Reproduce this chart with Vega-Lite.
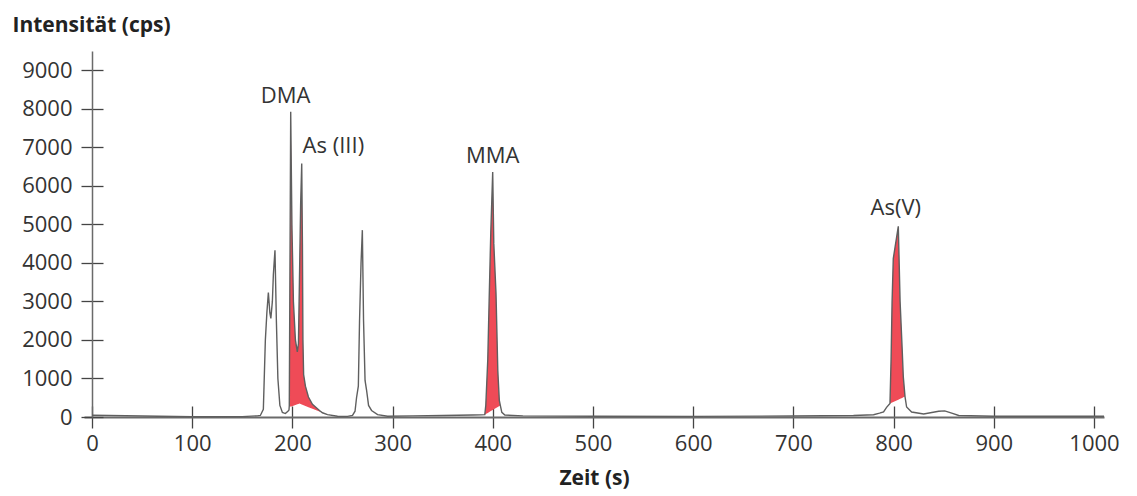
{
  "$schema": "https://vega.github.io/schema/vega-lite/v6.json",
  "width": 1020,
  "height": 366,
  "autosize": {"type": "none"},
  "padding": {"left": 84, "top": 51, "right": 33, "bottom": 79},
  "background": "white",
  "config": {"view": {"stroke": null}, "font": "Open Sans"},
  "datasets": {
    "signal": [
      {"t": 0, "i": 45}, {"t": 50, "i": 25}, {"t": 100, "i": 5}, {"t": 150, "i": 10}, {"t": 165, "i": 30}, {"t": 168, "i": 40},
      {"t": 171, "i": 200}, {"t": 173, "i": 2000}, {"t": 174.5, "i": 2700}, {"t": 176, "i": 3230}, {"t": 177.5, "i": 2700},
      {"t": 178.5, "i": 2560}, {"t": 180, "i": 3000}, {"t": 181, "i": 3700}, {"t": 182.6, "i": 4330}, {"t": 184, "i": 2500},
      {"t": 185.5, "i": 1000}, {"t": 187.5, "i": 300}, {"t": 190, "i": 120}, {"t": 193, "i": 90}, {"t": 195.5, "i": 150},
      {"t": 196.6, "i": 180}, {"t": 196.9, "i": 300}, {"t": 198.3, "i": 7922}, {"t": 199.5, "i": 5000}, {"t": 201, "i": 3000},
      {"t": 203, "i": 2000}, {"t": 204.9, "i": 1690}, {"t": 206, "i": 1900}, {"t": 207, "i": 3500}, {"t": 208.2, "i": 5500},
      {"t": 209.3, "i": 6580}, {"t": 210, "i": 4500}, {"t": 210.5, "i": 2000}, {"t": 211.2, "i": 1100}, {"t": 213, "i": 800},
      {"t": 216, "i": 520}, {"t": 220, "i": 330}, {"t": 227, "i": 170}, {"t": 230, "i": 110}, {"t": 235, "i": 60},
      {"t": 245, "i": 20}, {"t": 255, "i": 15}, {"t": 260, "i": 40}, {"t": 262.5, "i": 150}, {"t": 264, "i": 500},
      {"t": 265.8, "i": 800}, {"t": 267, "i": 2500}, {"t": 268.5, "i": 4000}, {"t": 269.8, "i": 4850}, {"t": 271, "i": 2500},
      {"t": 272.5, "i": 950}, {"t": 274, "i": 700}, {"t": 276, "i": 300}, {"t": 279, "i": 170}, {"t": 285, "i": 60},
      {"t": 295, "i": 20}, {"t": 320, "i": 30}, {"t": 350, "i": 40}, {"t": 380, "i": 50}, {"t": 388, "i": 55},
      {"t": 392, "i": 60}, {"t": 393, "i": 300}, {"t": 395, "i": 1500}, {"t": 396.5, "i": 3200}, {"t": 398, "i": 4800},
      {"t": 399.9, "i": 6360}, {"t": 401, "i": 4500}, {"t": 403.2, "i": 3200}, {"t": 405, "i": 1200}, {"t": 406.5, "i": 430},
      {"t": 407.5, "i": 300}, {"t": 409, "i": 120}, {"t": 412, "i": 50}, {"t": 430, "i": 30}, {"t": 500, "i": 20},
      {"t": 600, "i": 15}, {"t": 700, "i": 25}, {"t": 760, "i": 40}, {"t": 780, "i": 60}, {"t": 786, "i": 100},
      {"t": 790, "i": 130}, {"t": 793, "i": 250}, {"t": 796.4, "i": 350}, {"t": 797.5, "i": 1500}, {"t": 798.5, "i": 3000},
      {"t": 799.7, "i": 4110}, {"t": 804.7, "i": 4950}, {"t": 806.5, "i": 3000}, {"t": 808.5, "i": 1800}, {"t": 809.7, "i": 1040},
      {"t": 811.4, "i": 530}, {"t": 813, "i": 260}, {"t": 818, "i": 130}, {"t": 830, "i": 80}, {"t": 845, "i": 150},
      {"t": 851, "i": 160}, {"t": 858, "i": 100}, {"t": 865, "i": 40}, {"t": 900, "i": 20}, {"t": 1010, "i": 20}
    ],
    "fill": [
      {"peak": "a", "t": 196.9, "top": 300, "bottom": 300}, {"peak": "a", "t": 198.3, "top": 7922, "bottom": 266},
      {"peak": "a", "t": 199.5, "top": 5000, "bottom": 278}, {"peak": "a", "t": 201, "top": 3000, "bottom": 292},
      {"peak": "a", "t": 203, "top": 2000, "bottom": 311}, {"peak": "a", "t": 204.9, "top": 1690, "bottom": 330},
      {"peak": "a", "t": 206, "top": 1900, "bottom": 340}, {"peak": "a", "t": 207, "top": 3500, "bottom": 350},
      {"peak": "a", "t": 208.2, "top": 5500, "bottom": 337}, {"peak": "a", "t": 209.3, "top": 6580, "bottom": 326},
      {"peak": "a", "t": 210, "top": 4500, "bottom": 319}, {"peak": "a", "t": 210.5, "top": 2000, "bottom": 313},
      {"peak": "a", "t": 211.2, "top": 1100, "bottom": 306}, {"peak": "a", "t": 213, "top": 800, "bottom": 287},
      {"peak": "a", "t": 216, "top": 520, "bottom": 256}, {"peak": "a", "t": 220, "top": 330, "bottom": 214},
      {"peak": "a", "t": 227, "top": 170, "bottom": 141}, {"peak": "a", "t": 230, "top": 110, "bottom": 110},
      {"peak": "b", "t": 392, "top": 60, "bottom": 60}, {"peak": "b", "t": 393, "top": 300, "bottom": 75},
      {"peak": "b", "t": 395, "top": 1500, "bottom": 106}, {"peak": "b", "t": 396.5, "top": 3200, "bottom": 129},
      {"peak": "b", "t": 398, "top": 4800, "bottom": 153}, {"peak": "b", "t": 399.9, "top": 6360, "bottom": 182},
      {"peak": "b", "t": 401, "top": 4500, "bottom": 199}, {"peak": "b", "t": 403.2, "top": 3200, "bottom": 234},
      {"peak": "b", "t": 405, "top": 1200, "bottom": 261}, {"peak": "b", "t": 406.5, "top": 430, "bottom": 284},
      {"peak": "b", "t": 407.5, "top": 300, "bottom": 300},
      {"peak": "c", "t": 796.4, "top": 350, "bottom": 350}, {"peak": "c", "t": 797.5, "top": 1500, "bottom": 363},
      {"peak": "c", "t": 798.5, "top": 3000, "bottom": 375}, {"peak": "c", "t": 799.7, "top": 4110, "bottom": 390},
      {"peak": "c", "t": 804.7, "top": 4950, "bottom": 450}, {"peak": "c", "t": 806.5, "top": 3000, "bottom": 471},
      {"peak": "c", "t": 808.5, "top": 1800, "bottom": 495}, {"peak": "c", "t": 809.7, "top": 1040, "bottom": 510},
      {"peak": "c", "t": 811.4, "top": 530, "bottom": 530}
    ],
    "labels": [
      {"t": 193.1, "i": 8140, "label": "DMA"},
      {"t": 240.9, "i": 6842, "label": "As (III)"},
      {"t": 399.9, "i": 6582, "label": "MMA"},
      {"t": 802.2, "i": 5239, "label": "As(V)"}
    ]
  },
  "layer": [
    {
      "data": {"name": "fill"},
      "mark": {"type": "area", "color": "#ef4b57", "opacity": 1},
      "encoding": {
        "detail": {"field": "peak"},
        "x": {"field": "t", "type": "quantitative", "scale": {"domain": [-8, 1010], "nice": false, "zero": false},
          "axis": {"orient": "bottom", "offset": -11, "domain": false, "labels": false, "title": null, "grid": false,
            "values": [0, 100, 200, 300, 400, 500, 600, 700, 800, 900, 1000], "tickSize": 11, "tickColor": "#444", "tickWidth": 1.3}},
        "y": {"field": "top", "type": "quantitative", "scale": {"domain": [0, 9500], "nice": false, "zero": false},
          "axis": {"orient": "left", "offset": -19, "domain": false, "labels": false, "title": null, "grid": false,
            "values": [0, 1000, 2000, 3000, 4000, 5000, 6000, 7000, 8000, 9000], "tickSize": 11, "tickColor": "#444", "tickWidth": 1.3}},
        "y2": {"field": "bottom"}
      }
    },
    {
      "data": {"name": "signal"},
      "mark": {"type": "line", "color": "#5f5f5f", "strokeWidth": 1.4},
      "encoding": {
        "x": {"field": "t", "type": "quantitative",
          "axis": {"orient": "bottom", "title": "Zeit (s)", "grid": false, "format": "d",
            "values": [0, 100, 200, 300, 400, 500, 600, 700, 800, 900, 1000],
            "tickSize": 11, "tickColor": "#444", "tickWidth": 1.3, "domainColor": "#6a6a6a", "domainWidth": 2,
            "labelFont": "Open Sans", "labelFontSize": 22, "labelColor": "#333", "labelPadding": 5,
            "titleFont": "Open Sans", "titleFontSize": 21, "titleFontWeight": "bold", "titleColor": "#222",
            "titleBaseline": "alphabetic", "titleY": 67}},
        "y": {"field": "i", "type": "quantitative",
          "axis": {"orient": "left", "offset": -8, "title": "Intensität (cps)", "grid": false, "format": "d",
            "values": [0, 1000, 2000, 3000, 4000, 5000, 6000, 7000, 8000, 9000],
            "tickSize": 11, "tickColor": "#444", "tickWidth": 1.3, "domainColor": "#6a6a6a", "domainWidth": 1.5,
            "labelFont": "Open Sans", "labelFontSize": 22, "labelColor": "#333", "labelPadding": 9,
            "titleFont": "Open Sans", "titleFontSize": 21, "titleFontWeight": "bold", "titleColor": "#222",
            "titleAngle": 0, "titleAlign": "left", "titleBaseline": "alphabetic", "titleX": -80, "titleY": -20}}
      }
    },
    {
      "data": {"name": "labels"},
      "mark": {"type": "text", "font": "Open Sans", "fontSize": 22, "color": "#333", "baseline": "alphabetic", "align": "center"},
      "encoding": {
        "x": {"field": "t", "type": "quantitative", "axis": null},
        "y": {"field": "i", "type": "quantitative", "axis": null},
        "text": {"field": "label"}
      }
    }
  ],
  "resolve": {"axis": {"x": "independent", "y": "independent"}}
}
